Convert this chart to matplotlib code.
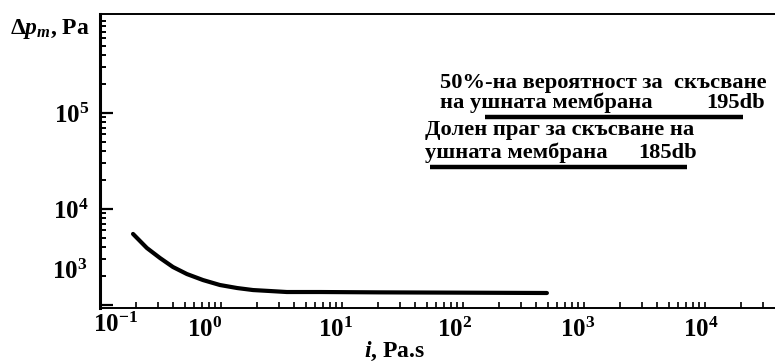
import numpy as np
import matplotlib
matplotlib.use("Agg")
import matplotlib.pyplot as plt
from matplotlib.ticker import LogLocator, NullFormatter, FixedLocator, FixedFormatter
from matplotlib.transforms import ScaledTranslation

# ---- data ----
impulse = [0.1875, 0.244, 0.313, 0.401, 0.523, 0.71, 0.98, 1.36, 1.84, 2.54, 3.5, 6.6, 20, 100, 494]
pressure = [5500, 3926, 3090, 2488, 2102, 1820, 1616, 1503, 1432, 1399, 1366, 1366, 1355, 1345, 1334]

thr_levels = [9.1e4, 2.74e4]          # 195 dB, 185 dB
thr_xstart = [151, 53]
thr_xend = [20600, 7100]
thr_db = ["195db", "185db"]

xtick_vals = [1e-1, 1e0, 1e1, 1e2, 1e3, 1e4]
xtick_labels = [r"$10^{-1}$", r"$10^{0}$", r"$10^{1}$", r"$10^{2}$", r"$10^{3}$", r"$10^{4}$"]
ytick_vals = [1e3, 1e4, 1e5]
ytick_labels = [r"$10^{3}$", r"$10^{4}$", r"$10^{5}$"]

plt.rcParams['mathtext.fontset'] = 'custom'
plt.rcParams['mathtext.rm'] = 'Liberation Serif:bold'
plt.rcParams['mathtext.it'] = 'Liberation Serif:italic'
plt.rcParams['mathtext.bf'] = 'Liberation Serif:italic:bold'
plt.rcParams['mathtext.sf'] = 'Liberation Serif'
plt.rcParams['font.family'] = ['Liberation Serif', 'DejaVu Serif']
plt.rcParams['font.weight'] = 'bold'

W, H = 775, 362
fig = plt.figure(figsize=(W / 100, H / 100), dpi=100)
ax = fig.add_axes([100 / W, 1 - 308 / H, 1 - 100 / W, (308 - 14) / H])

ax.set_xscale('log')
ax.set_yscale('log')
ax.set_xlim(10 ** -1, 10 ** 4.579)
ax.set_ylim(10 ** 2.969, 10 ** 6.031)

ax.plot(impulse, pressure, color='black', lw=3.0, solid_capstyle='round')
for lev, x0, x1 in zip(thr_levels, thr_xstart, thr_xend):
    ax.hlines(lev, x0, x1, color='black', lw=3.2)

# spines
ax.spines['right'].set_visible(False)
ax.spines['left'].set_linewidth(2.2)
ax.spines['bottom'].set_linewidth(1.4)
ax.spines['top'].set_linewidth(1.4)

ax.xaxis.set_major_locator(FixedLocator(xtick_vals))
ax.xaxis.set_major_formatter(FixedFormatter(xtick_labels))
ax.xaxis.set_minor_locator(LogLocator(base=10, subs=np.arange(2, 10), numticks=50))
ax.xaxis.set_minor_formatter(NullFormatter())
ax.yaxis.set_major_locator(FixedLocator(ytick_vals))
ax.yaxis.set_major_formatter(FixedFormatter(ytick_labels))
ax.yaxis.set_minor_locator(LogLocator(base=10, subs=np.arange(2, 10), numticks=50))
ax.yaxis.set_minor_formatter(NullFormatter())

ax.tick_params(axis='x', which='both', direction='in', length=4.5, width=1.2, pad=7, labelsize=18)
ax.tick_params(axis='y', which='major', direction='in', length=9, width=1.6, pad=8, labelsize=18)
ax.tick_params(axis='y', which='minor', direction='in', length=4.5, width=1.4)

# shift tick labels (pixel offsets as in the scanned original)
xoff = [(16, 5), (-16, 0), (-6, 0), (-8, 0), (-6, 0), (-4, 0)]
for lab, (dx, dy) in zip(ax.get_xticklabels(), xoff):
    lab.set_transform(lab.get_transform() + ScaledTranslation(dx / 100, dy / 100, fig.dpi_scale_trans))
yoff = [(-2, 36), (0, 0), (0, 0)]
for lab, (dx, dy) in zip(ax.get_yticklabels(), yoff):
    lab.set_transform(lab.get_transform() + ScaledTranslation(dx / 100, dy / 100, fig.dpi_scale_trans))

# axis titles
fig.text(10 / W, 1 - 29 / H, r"$\mathsf{\Delta}p_{m}$, Pa", ha='left', va='center', fontsize=17, fontweight='bold')
fig.text(395 / W, 1 - 351 / H, r"$\mathbf{i}$, Pa.s", ha='center', va='center', fontsize=17, fontweight='bold')

# annotations
def px(x, y):
    return ((x - 100) / 675, (308 - y) / 294)

fs = 16.2
ax.text(*px(440, 83), "50%-на вероятност за  скъсване", transform=ax.transAxes, ha='left', va='center', fontsize=fs, fontweight='bold')
ax.text(*px(440, 103), "на ушната мембрана", transform=ax.transAxes, ha='left', va='center', fontsize=fs, fontweight='bold')
ax.text(*px(765, 103), thr_db[0], transform=ax.transAxes, ha='right', va='center', fontsize=fs, fontweight='bold')
ax.text(*px(425, 130), "Долен праг за скъсване на", transform=ax.transAxes, ha='left', va='center', fontsize=fs, fontweight='bold')
ax.text(*px(425, 153), "ушната мембрана", transform=ax.transAxes, ha='left', va='center', fontsize=fs, fontweight='bold')
ax.text(*px(697, 153), thr_db[1], transform=ax.transAxes, ha='right', va='center', fontsize=fs, fontweight='bold')

fig.savefig("out.png", dpi=100)
